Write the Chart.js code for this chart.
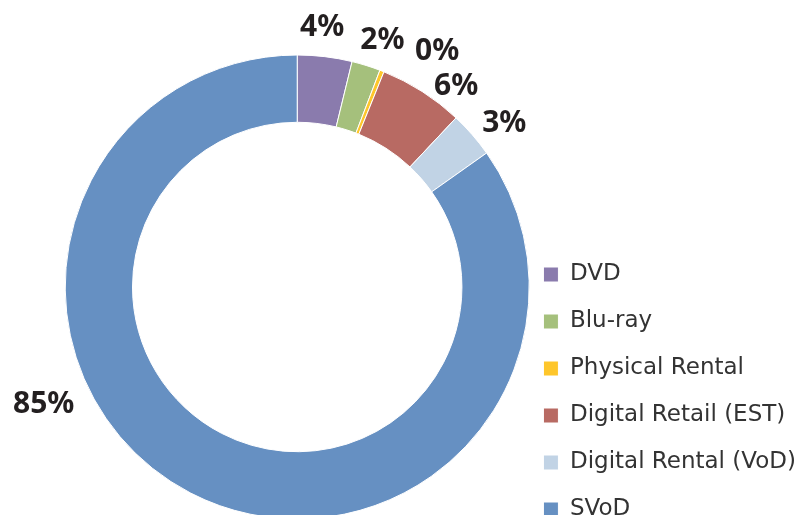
<!DOCTYPE html>
<html>
<head>
<meta charset="utf-8">
<script src="https://cdn.jsdelivr.net/npm/chart.js@4"></script>
<style>
  html, body { margin: 0; padding: 0; background: #fff; overflow: hidden; }
  #wrap { position: relative; width: 811px; height: 545px; }
</style>
</head>
<body>
<div id="wrap"><canvas id="shareChart"></canvas></div>
<script>
const categories = ["DVD", "Blu-ray", "Physical Rental", "Digital Retail (EST)", "Digital Rental (VoD)", "SVoD"];
const shares = [3.8, 2.0, 0.3, 5.9, 3.2, 84.8];
const sliceColors = ["#8a7bad", "#a5c07c", "#fec62b", "#b86a63", "#c1d3e5", "#6690c2"];

// nudges for the percent labels so they sit like the original
const labelShift = [[-6, -1], [8, 2], [45, 6], [19, 19], [11, 7], [-134, -113]];

const percentLabels = {
  id: "percentLabels",
  afterDatasetsDraw(chart) {
    const ctx = chart.ctx;
    const arcs = chart.getDatasetMeta(0).data;
    ctx.save();
    ctx.font = "bold 30px 'Noto Sans'";
    ctx.fillStyle = "#231f20";
    ctx.textAlign = "center";
    ctx.textBaseline = "middle";
    arcs.forEach((arc, i) => {
      const p = arc.getProps(["x", "y", "startAngle", "endAngle", "outerRadius"], true);
      const mid = (p.startAngle + p.endAngle) / 2;
      const r = p.outerRadius + 28;
      const x = p.x + r * Math.cos(mid) + labelShift[i][0];
      const y = p.y + r * Math.sin(mid) + labelShift[i][1];
      ctx.fillText(Math.round(shares[i]) + "%", x, y);
    });
    ctx.restore();
  }
};

new Chart(document.getElementById("shareChart"), {
  type: "doughnut",
  data: {
    labels: categories,
    datasets: [{
      data: shares,
      backgroundColor: sliceColors,
      borderColor: "#ffffff",
      borderWidth: 1
    }]
  },
  options: {
    responsive: true,
    maintainAspectRatio: false,
    animation: false,
    radius: 232,
    cutout: "71%",
    layout: { padding: { top: 29, left: 75, right: 5, bottom: 0 } },
    plugins: {
      tooltip: { enabled: false },
      legend: {
        position: "right",
        align: "end",
        labels: {
          boxWidth: 15,
          boxHeight: 15,
          padding: 24,
          color: "#333333",
          font: { family: "'DejaVu Sans'", size: 23 }
        }
      }
    }
  },
  plugins: [percentLabels]
});
</script>
</body>
</html>
